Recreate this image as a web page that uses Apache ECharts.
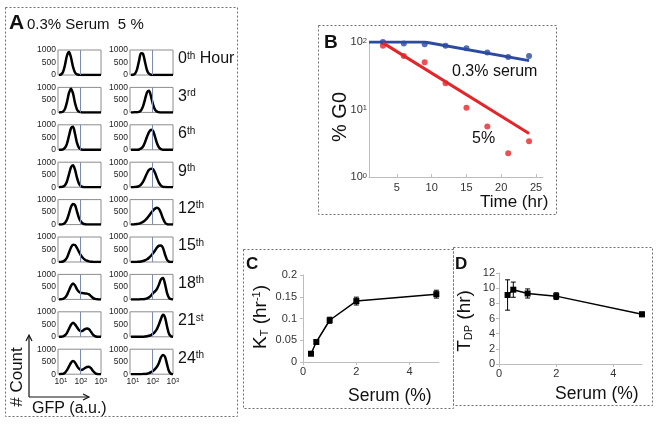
<!DOCTYPE html>
<html>
<head>
<meta charset="utf-8">
<script src="https://cdn.jsdelivr.net/npm/echarts@6/dist/echarts.min.js"></script>
<style>
  html, body { margin: 0; padding: 0; background: #fff; }
  #main { width: 656px; height: 424px; }
</style>
</head>
<body>
<div id="main"></div>
<script>
// ---- panel A : GFP histograms (x = log10 GFP) ----
var gfpLog = [0.9, 1.0, 1.1, 1.2, 1.3, 1.4, 1.5, 1.6, 1.7, 1.8, 1.9, 2.0, 2.1, 2.2, 2.3, 2.4, 2.5, 2.6, 2.7, 2.8, 2.9, 3.0];
var gateLog = 1.97;
var hourLabels = [['0', 'th', ' Hour'], ['3', 'rd', ''], ['6', 'th', ''], ['9', 'th', ''], ['12', 'th', ''],
                  ['15', 'th', ''], ['18', 'th', ''], ['21', 'st', ''], ['24', 'th', '']];
// 0.3% serum, rows 0h..24h
var countLow = [
  [0, 20, 120, 400, 780, 920, 700, 330, 100, 25, 5, 0, 0, 0, 0, 0, 0, 0, 0, 0, 0, 0],
  [0, 5, 30, 140, 420, 780, 950, 760, 380, 120, 30, 8, 0, 0, 0, 0, 0, 0, 0, 0, 0, 0],
  [0, 0, 20, 80, 250, 560, 860, 920, 640, 280, 80, 20, 5, 0, 0, 0, 0, 0, 0, 0, 0, 0],
  [0, 5, 20, 80, 240, 520, 800, 880, 700, 380, 140, 40, 10, 0, 0, 0, 0, 0, 0, 0, 0, 0],
  [0, 5, 20, 70, 200, 440, 700, 820, 780, 520, 260, 110, 40, 15, 5, 0, 0, 0, 0, 0, 0, 0],
  [0, 5, 20, 70, 180, 380, 580, 690, 680, 560, 400, 260, 160, 90, 50, 25, 10, 5, 0, 0, 0, 0],
  [0, 5, 20, 70, 180, 360, 540, 640, 560, 400, 300, 260, 250, 240, 230, 200, 130, 60, 20, 5, 0, 0],
  [0, 5, 15, 60, 160, 320, 480, 560, 500, 380, 270, 225, 250, 310, 330, 300, 200, 90, 30, 5, 0, 0],
  [0, 5, 15, 60, 160, 310, 460, 530, 470, 330, 220, 170, 190, 250, 290, 300, 240, 130, 50, 10, 0, 0]
];
// 5% serum, rows 0h..24h
var countHigh = [
  [0, 10, 50, 220, 560, 870, 850, 520, 190, 50, 10, 0, 0, 0, 0, 0, 0, 0, 0, 0, 0, 0],
  [0, 0, 5, 5, 20, 80, 240, 520, 800, 870, 640, 320, 110, 30, 8, 0, 0, 0, 0, 0, 0, 0],
  [0, 0, 0, 5, 15, 50, 130, 300, 520, 710, 800, 760, 530, 260, 90, 25, 5, 0, 0, 0, 0, 0],
  [0, 0, 5, 15, 40, 100, 210, 380, 560, 690, 740, 720, 580, 360, 170, 60, 15, 5, 0, 0, 0, 0],
  [0, 5, 10, 20, 40, 70, 110, 170, 250, 350, 460, 560, 640, 670, 620, 460, 240, 80, 15, 0, 0, 0],
  [0, 0, 0, 5, 10, 20, 40, 70, 110, 170, 250, 350, 460, 580, 650, 660, 560, 300, 90, 15, 0, 0],
  [0, 0, 0, 0, 0, 5, 10, 20, 40, 80, 150, 250, 320, 420, 600, 800, 860, 620, 260, 60, 10, 0],
  [0, 0, 0, 0, 0, 0, 5, 10, 20, 40, 70, 120, 200, 320, 500, 720, 880, 780, 420, 120, 20, 0],
  [0, 0, 0, 0, 0, 0, 5, 10, 20, 40, 80, 130, 200, 300, 460, 680, 770, 700, 400, 120, 20, 0]
];

// ---- panel B : % G0 over time ----
var hours = [3, 6, 9, 12, 15, 18, 21, 24];
var g0Low = [100, 95, 93, 88, 81, 70, 60, 62];
var g0High = [88, 62, 50, 24.4, 10.6, 5.6, 2.24, 3.4];
var fitLowT = [1, 9, 24], fitLowV = [100, 100, 53];
var fitHighT = [3, 24], fitHighV = [97, 4.4];

// ---- panels C, D ----
var serumPct = [0.3, 0.5, 1, 2, 5];
var kt = [0.019, 0.046, 0.096, 0.14, 0.156];
var ktErr = [0.003, 0.004, 0.007, 0.009, 0.009];
var tdp = [9.1, 9.8, 9.3, 8.95, 6.55];
var tdpErr = [2.0, 1.0, 0.6, 0.45, 0.3];

var FONT = '"Liberation Sans", Arial, sans-serif';
var BLUE = '#2b4aa0', RED = '#e3262a', AXIS = '#bdbdbd';

function zip(a, b, c) {
  return a.map(function (v, i) { return c ? [v, b[i], c[i]] : [v, b[i]]; });
}

function errorBars(params, api) {
  var x = api.value(0), y = api.value(1), e = api.value(2);
  var hi = api.coord([x, y + e]), lo = api.coord([x, y - e]);
  var w = 2.5, st = { stroke: '#000', lineWidth: 1 };
  return {
    type: 'group',
    children: [
      { type: 'line', shape: { x1: hi[0], y1: hi[1], x2: lo[0], y2: lo[1] }, style: st },
      { type: 'line', shape: { x1: hi[0] - w, y1: hi[1], x2: hi[0] + w, y2: hi[1] }, style: st },
      { type: 'line', shape: { x1: lo[0] - w, y1: lo[1], x2: lo[0] + w, y2: lo[1] }, style: st }
    ]
  };
}

var grids = [], xAxes = [], yAxes = [], series = [];

// histograms
for (var r = 0; r < 9; r++) {
  for (var c = 0; c < 2; c++) {
    var i = grids.length;
    grids.push({ left: c ? 130 : 58, top: 50 + r * 37.4, width: 43, height: 25,
      show: true, borderColor: '#8c8c8c', borderWidth: 1 });
    xAxes.push({
      gridIndex: i, type: 'value', min: 0.85, max: 3,
      axisLine: { show: false }, axisTick: { show: false }, splitLine: { show: false },
      axisLabel: {
        show: r === 8, customValues: [1, 2, 3], margin: 3, color: '#222', fontSize: 8.5, fontFamily: FONT,
        formatter: function (v) { return '10{s|' + v + '}'; },
        rich: { s: { fontSize: 6, verticalAlign: 'top', fontFamily: FONT, color: '#222' } }
      }
    });
    yAxes.push({
      gridIndex: i, type: 'value', min: 0, max: 1000, interval: 500,
      axisLine: { show: false }, axisTick: { show: false }, splitLine: { show: false },
      axisLabel: { margin: 2, color: '#222', fontSize: 8.5, fontFamily: FONT,
        formatter: function (v) { return String(v); } }
    });
    var counts = c ? countHigh[r] : countLow[r];
    series.push({
      type: 'line', xAxisIndex: i, yAxisIndex: i, data: zip(gfpLog, counts),
      showSymbol: false, smooth: 0.3, lineStyle: { color: '#000', width: 2.5 },
      markLine: { silent: true, symbol: 'none', label: { show: false },
        lineStyle: { color: '#7b8bb3', width: 1, type: 'solid' }, data: [{ xAxis: gateLog }] }
    });
  }
}

// panel B
var gB = grids.length;
grids.push({ left: 369, top: 42, width: 174, height: 135 });
xAxes.push({
  gridIndex: gB, type: 'value', min: 1, max: 26,
  axisLine: { show: true, lineStyle: { color: AXIS } },
  axisTick: { show: true, inside: true, length: 3, customValues: [5, 10, 15, 20, 25], lineStyle: { color: AXIS } },
  axisLabel: { customValues: [5, 10, 15, 20, 25], margin: 5, color: '#333', fontSize: 11, fontFamily: FONT },
  splitLine: { show: false }
});
yAxes.push({
  gridIndex: gB, type: 'log', logBase: 10, min: 1, max: 100,
  axisLine: { show: true, lineStyle: { color: AXIS } }, axisTick: { show: false }, splitLine: { show: false },
  axisLabel: {
    margin: 2, color: '#333', fontSize: 11, fontFamily: FONT,
    formatter: function (v) { return '10{s|' + Math.round(Math.log10(v)) + '}'; },
    rich: { s: { fontSize: 7.5, verticalAlign: 'top', color: '#333', fontFamily: FONT } }
  }
});
series.push(
  { type: 'line', xAxisIndex: gB, yAxisIndex: gB, data: zip(fitLowT, fitLowV), showSymbol: false, lineStyle: { color: BLUE, width: 3 } },
  { type: 'line', xAxisIndex: gB, yAxisIndex: gB, data: zip(fitHighT, fitHighV), showSymbol: false, lineStyle: { color: RED, width: 3 } },
  { type: 'scatter', xAxisIndex: gB, yAxisIndex: gB, data: zip(hours, g0Low), symbolSize: 6, itemStyle: { color: BLUE } },
  { type: 'scatter', xAxisIndex: gB, yAxisIndex: gB, data: zip(hours, g0High), symbolSize: 6, itemStyle: { color: RED } }
);

// panels C and D
function serumPanel(box, yMin, yMax, yInt, xMax, vals, errs, yMargin) {
  var g = grids.length;
  grids.push(box);
  xAxes.push({
    gridIndex: g, type: 'value', min: 0, max: xMax,
    axisLine: { show: true, lineStyle: { color: AXIS } },
    axisTick: { show: true, length: 3, customValues: [0, 2, 4], lineStyle: { color: AXIS } },
    axisLabel: { customValues: [0, 2, 4], margin: 4, color: '#333', fontSize: 11, fontFamily: FONT },
    splitLine: { show: false }
  });
  yAxes.push({
    gridIndex: g, type: 'value', min: yMin, max: yMax, interval: yInt,
    axisLine: { show: true, lineStyle: { color: AXIS } },
    axisTick: { show: true, length: 3, lineStyle: { color: AXIS } },
    axisLabel: { margin: yMargin, color: '#333', fontSize: 11, fontFamily: FONT },
    splitLine: { show: false }
  });
  series.push(
    { type: 'line', xAxisIndex: g, yAxisIndex: g, data: zip(serumPct, vals), symbol: 'rect', symbolSize: 6,
      lineStyle: { color: '#000', width: 1.5 }, itemStyle: { color: '#000' } },
    { type: 'custom', xAxisIndex: g, yAxisIndex: g, renderItem: errorBars, encode: { x: 0, y: 1 },
      data: zip(serumPct, vals, errs), z: 3 }
  );
}
serumPanel({ left: 303, top: 275, width: 136, height: 87 }, 0, 0.2, 0.05, 5.1, kt, ktErr, 6);
serumPanel({ left: 499, top: 273, width: 143, height: 91 }, 0, 12, 2, 5, tdp, tdpErr, 4);

// labels, frames, arrows
function txt(x, y, text, size, opt) {
  opt = opt || {};
  return {
    type: 'text', x: x, y: y, rotation: opt.rot || 0, z: 10,
    style: {
      text: text, fontSize: size, fontFamily: FONT, fontWeight: opt.bold ? 'bold' : 'normal', fill: '#111',
      align: opt.align || 'left', verticalAlign: 'middle', rich: opt.rich
    }
  };
}
function frame(x, y, w, h) {
  return { type: 'rect', shape: { x: x + 0.5, y: y + 0.5, width: w, height: h },
    style: { fill: 'none', stroke: '#6e6e6e', lineWidth: 1, lineDash: [2, 2] } };
}
function seg(pts) {
  return { type: 'polyline', shape: { points: pts }, style: { fill: 'none', stroke: '#111', lineWidth: 1.2 } };
}

var supRich = {
  b: { fontSize: 16, fontFamily: FONT, color: '#111' },
  s: { fontSize: 10, fontFamily: FONT, color: '#111', verticalAlign: 'top' }
};
var graphics = [
  frame(5, 7, 232, 409), frame(318, 25, 238, 189), frame(243, 249, 210, 159), frame(453, 247, 199, 158),
  txt(9, 23, 'A', 21, { bold: true }),
  txt(27, 25, '0.3% Serum  5 %', 15),
  txt(17, 377, '# Count', 17, { rot: Math.PI / 2, align: 'center' }),
  seg([[29, 397], [29, 336]]), seg([[26, 341], [29, 335], [32, 341]]),
  seg([[29, 397], [88, 397]]), seg([[83, 394], [89, 397], [83, 400]]),
  txt(32, 409, 'GFP (a.u.)', 16),
  txt(324, 43, 'B', 19, { bold: true }),
  txt(452, 72, '0.3% serum', 16),
  txt(472, 139, '5%', 16),
  txt(340.5, 117, '% G0', 20, { rot: Math.PI / 2, align: 'center' }),
  txt(480, 202, 'Time (hr)', 17),
  txt(246, 264, 'C', 17, { bold: true }),
  txt(260.5, 317, 'K{d|T} (hr{u|-1})', 19, { rot: Math.PI / 2, align: 'center', rich: {
    d: { fontSize: 11, fontFamily: FONT, color: '#111', verticalAlign: 'bottom' },
    u: { fontSize: 11, fontFamily: FONT, color: '#111', verticalAlign: 'top' } } }),
  txt(348, 396, 'Serum (%)', 17.5),
  txt(455, 264, 'D', 17, { bold: true }),
  txt(465, 321, 'T{d|DP} (hr)', 19, { rot: Math.PI / 2, align: 'center', rich: {
    d: { fontSize: 11, fontFamily: FONT, color: '#111', verticalAlign: 'bottom' } } }),
  txt(555, 394, 'Serum (%)', 17.5)
];
hourLabels.forEach(function (h, k) {
  graphics.push(txt(178, 59 + k * 37.4, '{b|' + h[0] + '}{s|' + h[1] + '}' + (h[2] ? '{b|' + h[2] + '}' : ''), 16, { rich: supRich }));
});

var chart = echarts.init(document.getElementById('main'));
chart.setOption({
  animation: false,
  grid: grids,
  xAxis: xAxes,
  yAxis: yAxes,
  series: series,
  graphic: graphics
});
</script>
</body>
</html>
